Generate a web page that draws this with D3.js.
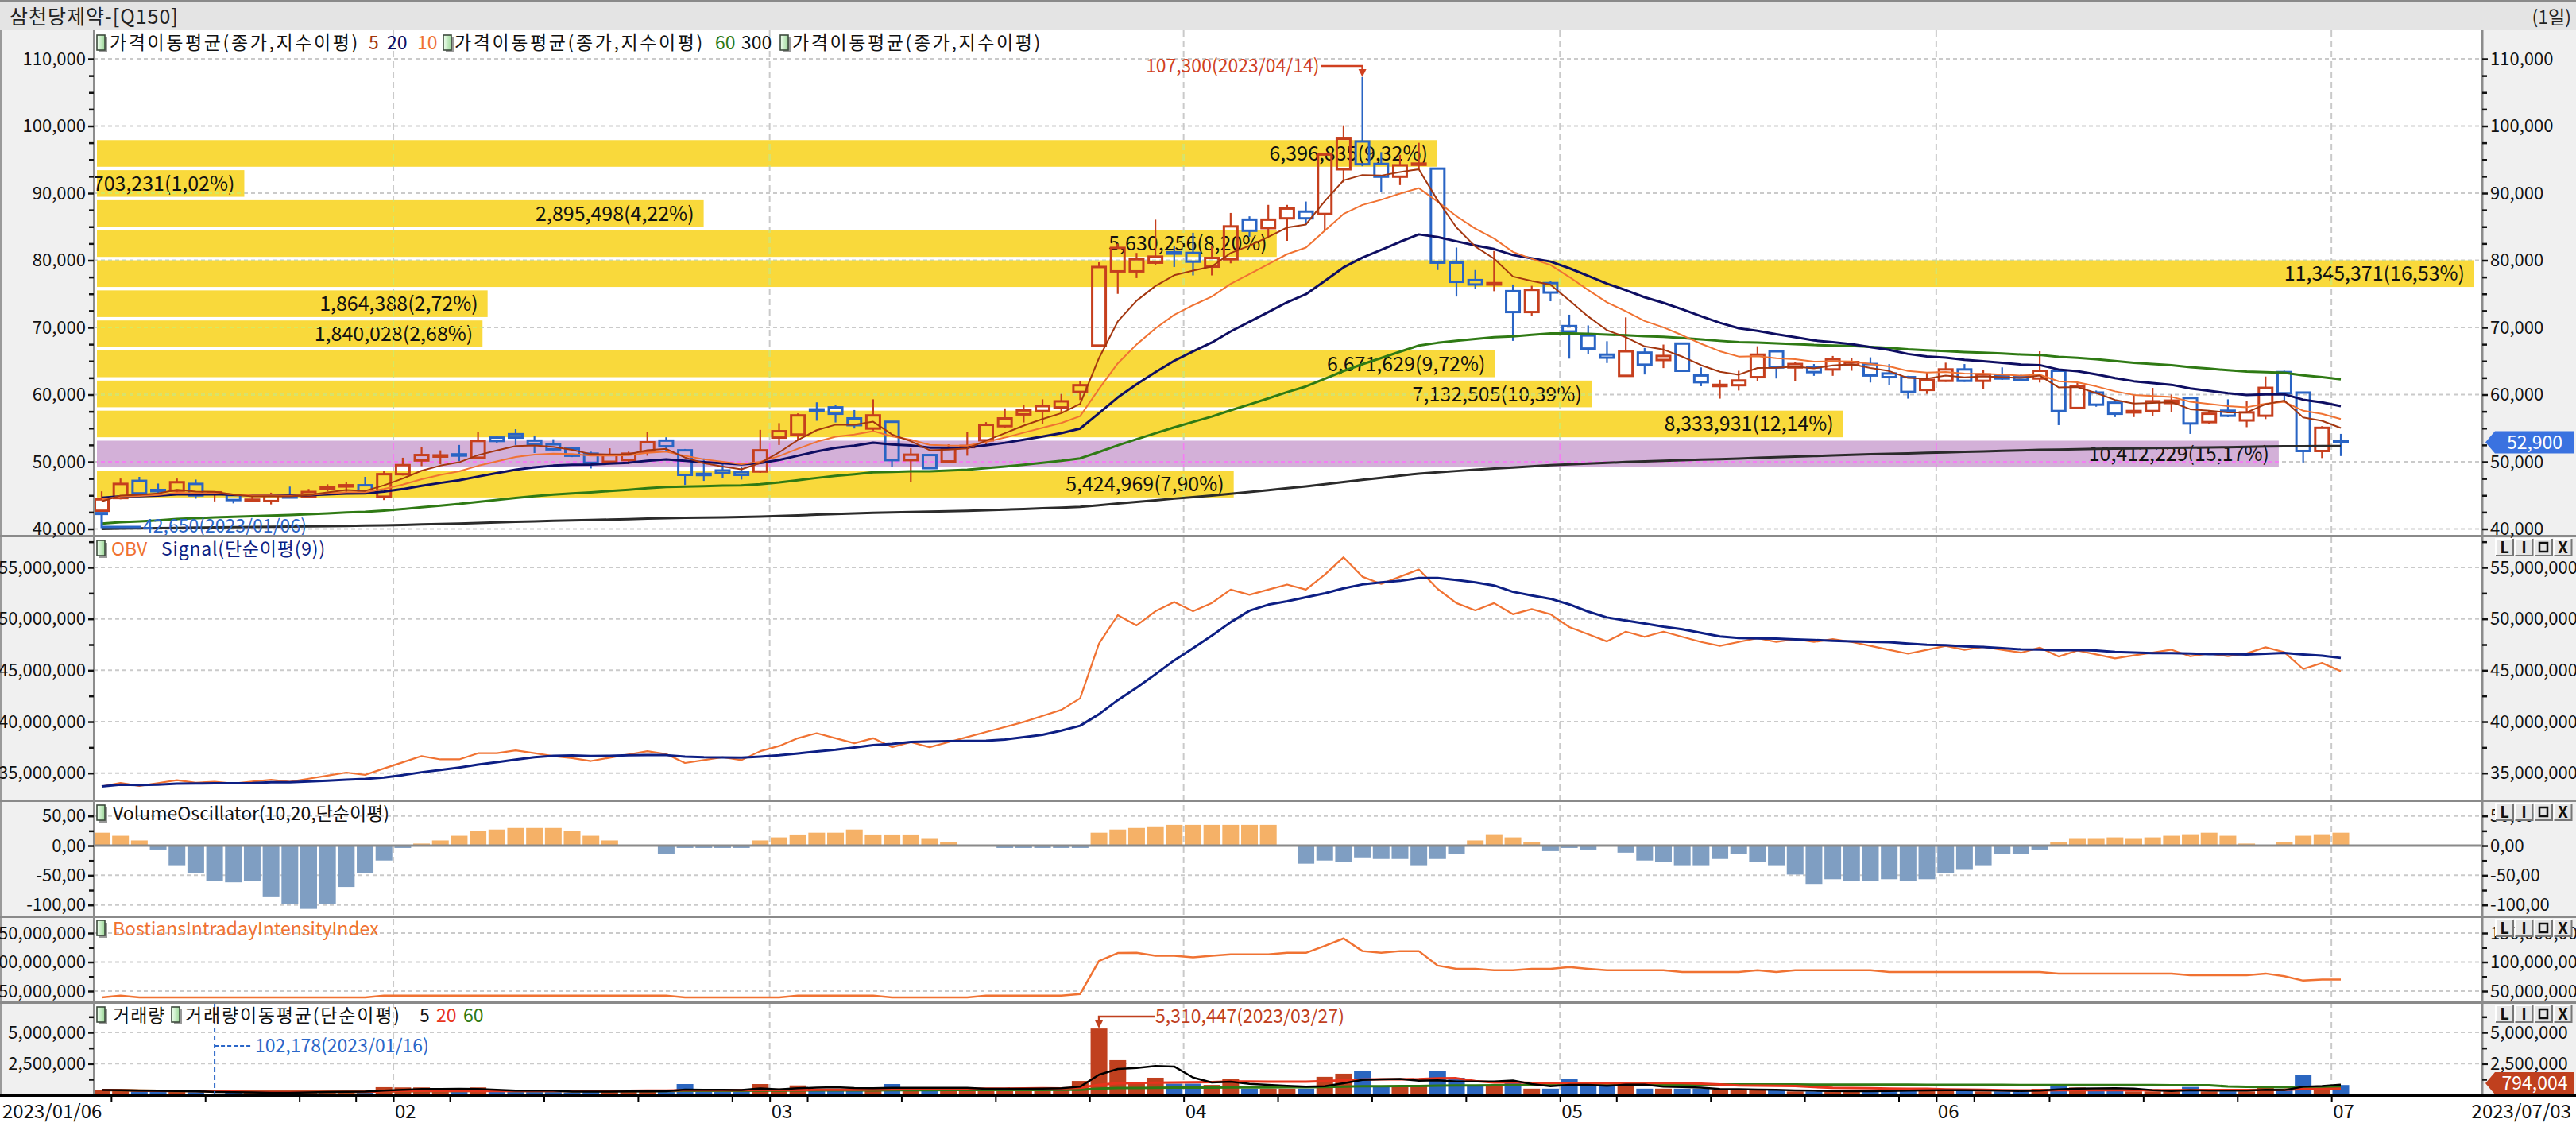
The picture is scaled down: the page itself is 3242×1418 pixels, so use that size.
<!DOCTYPE html>
<html><head><meta charset="utf-8">
<script src="https://cdn.jsdelivr.net/npm/d3@7/dist/d3.min.js"></script>
<style>
html,body{margin:0;padding:0;background:#fff;overflow:hidden;}
svg text{font-family:'Noto Sans CJK KR','Noto Sans',sans-serif;}
</style></head><body>
<svg id="c" width="3242" height="1418"></svg>
<script>
// ---------------- DATA ----------------
const monthDays = [
  ["2023/01",[6,9,10,11,12,13,16,17,18,19,20,25,26,27,30,31]],
  ["2023/02",[1,2,3,6,7,8,9,10,13,14,15,16,17,20,21,22,23,24,27,28]],
  ["2023/03",[2,3,6,7,8,9,10,13,14,15,16,17,20,21,22,23,24,27,28,29,30,31]],
  ["2023/04",[3,4,5,6,7,10,11,12,13,14,17,18,19,20,21,24,25,26,27,28]],
  ["2023/05",[2,3,4,8,9,10,11,12,15,16,17,18,19,22,23,24,25,26,30,31]],
  ["2023/06",[1,2,5,7,8,9,12,13,14,15,16,19,20,21,22,23,26,27,28,29,30]],
  ["2023/07",[3]]
];
const open = [42700,44600,47150,45800,45700,46700,45300,45050,44300,44150,
44850,44800,46100,46450,46500,44800,48150,50200,50800,51100,
50600,53600,54100,53150,52600,51950,51200,50000,50250,51500,
53150,51700,48200,48700,48450,48550,53600,54050,57800,58100,
56450,54950,55950,50250,51000,50050,52200,53200,55300,57050,
57550,58100,60400,67300,78350,78350,79650,81200,81100,79050,
80150,86050,84800,86250,87250,86900,93550,97700,94350,92450,
94300,93650,79650,77050,76400,75400,72300,76600,70200,68800,
65950,62800,66250,65150,67600,62850,61400,61400,62600,66450,
64050,64050,63750,64450,64550,63150,62600,60700,62050,63750,
62050,62850,62700,62400,63550,58000,60300,58800,57350,57550,
58750,59500,55900,57600,56150,56850,63350,60300,51600,53100];
const high = [45600,47500,47750,46750,47500,47350,45500,45100,45100,45400,
46300,45950,46650,46950,47750,48650,50600,52200,51700,52500,
54400,53900,54850,53850,53350,52200,51500,52000,51500,54400,
53650,51900,50500,49900,49300,54750,55750,57200,58850,58400,
57700,59300,56000,52000,51100,52600,54450,55900,57950,58400,
59300,60100,61950,79700,82500,81100,86050,82100,84100,82100,
87050,86550,88250,88250,88750,95900,100100,107300,96100,95700,
97500,93700,81900,78550,81400,76400,76200,76900,71900,70300,
67950,71500,66950,67450,67700,64050,62200,63550,67200,66550,
64850,64550,65750,65500,65550,64550,62800,63350,64750,64550,
63650,64050,62950,66450,63600,61800,60600,59200,60000,61000,
60000,59600,57600,59300,59000,62700,63550,60400,55300,54150];
const low = [42650,44400,45200,45000,45400,44500,44100,43800,44000,43650,
44650,44700,45600,45400,45300,44300,47950,49350,49650,50100,
50500,52800,52500,51300,51700,50700,49000,49700,49700,50900,
51500,46550,47150,47550,47350,48350,52500,53250,56100,55850,
54950,54600,49250,47000,49000,49900,50900,52600,55000,55850,
55650,57300,59200,67100,75000,77350,79300,79000,77750,77750,
79550,83500,83500,82900,85250,84500,91600,94000,90200,91200,
93550,78550,74600,75800,75400,68000,71750,73900,65350,66050,
64700,62700,63000,63950,63500,61250,59400,60600,62050,62400,
62050,62800,62800,63550,61800,61400,59400,60100,61900,61900,
60850,62200,62050,61800,55450,57850,58200,56650,56650,56850,
57400,54150,55650,56650,55150,56350,58800,49900,50550,50850];
const close = [44400,46700,45300,45700,46950,45000,45450,44300,44350,44950,
44750,45500,46200,46500,45400,48150,49500,51000,50950,50950,
53100,53100,53600,52600,51850,50900,49850,51000,51200,52900,
52300,48050,48100,48300,48050,51700,54550,56900,57650,57150,
55450,56900,50250,51050,49050,51950,52350,55500,56450,57650,
58300,59000,61400,79000,81850,80150,80550,81000,79800,80350,
85050,84400,86050,87700,86250,95750,98100,94300,92450,94150,
94400,79650,76800,76400,76600,72300,75600,75200,69400,66850,
65500,66450,64450,65750,63550,61850,61450,62100,65950,64050,
64550,63350,65250,64850,62850,62600,60400,62200,63750,62050,
63000,62400,62200,63550,57550,61200,58500,57150,57550,59000,
59100,55700,57150,56850,57350,61000,60200,51600,55050,52900];
const volume = [400000,350000,300000,280000,280000,250000,102178,170000,180000,180000,
200000,300000,300000,300000,220000,620000,600000,600000,320000,280000,
600000,280000,280000,280000,280000,200000,280000,320000,320000,320000,
280000,870000,280000,280000,280000,870000,500000,760000,490000,490000,
490000,490000,870000,490000,490000,490000,490000,490000,490000,490000,
590000,590000,1120000,5310447,2780000,1000000,1380000,900000,900000,800000,
1300000,500000,500000,500000,500000,1450000,1700000,1890000,700000,700000,
700000,1890000,1380000,700000,700000,1080000,500000,500000,1250000,700000,
700000,950000,500000,500000,500000,500000,380000,380000,380000,380000,
280000,280000,280000,280000,380000,380000,380000,380000,380000,380000,
280000,280000,280000,490000,870000,590000,380000,380000,280000,280000,
280000,640000,280000,280000,280000,600000,490000,1630000,590000,794004];
const volOsc = [21.9,16.7,8.8,-6.6,-32.9,-46,-59.2,-61.8,-59.2,-85.5,
-98.7,-106.6,-98.7,-69.7,-46,-25,-3.9,3.5,8.8,16.7,
24.6,27.2,29.8,29.8,29.8,24.6,16.7,8.8,0,0,
-14.5,-3.9,-3.9,-3.9,-3.9,8.8,14,18.9,21.9,21.9,
27.2,18.9,18.9,18.9,11.4,5.7,0,0,-3.9,-3.9,
-3.9,-3.9,-3.9,21.9,27.2,29.8,32.5,35,35,35,
35,35,35,0,-30.3,-25,-27.6,-19.7,-22.4,-22.4,
-32.9,-22.4,-14.5,8.8,19.3,14,6.1,-9.2,-3.9,-6.6,
0,-11.8,-25,-27.6,-32.9,-32.9,-22.4,-14.5,-27.6,-32.9,
-48.7,-64.5,-56.6,-59.2,-59.2,-56.6,-59.2,-56.6,-46,-40.8,
-32.9,-14.5,-14.5,-6.6,6.1,11.4,11.4,14,11.4,14,
16.7,19.3,21.9,16.7,3.5,0,6.1,16.7,19.3,21.9];
const biiM = [39,42.2,39,39,39,39,39,39,39,39,
39,39,39,39,39,42.2,42.2,42.2,42.2,42.2,
42.2,42.2,42.2,42.2,42.2,42.2,42.2,42.2,42.2,42.2,
42.2,39,39,39,39,39,39,42.2,42.2,42.2,
42.2,42.2,39,39,39,39,39,42.2,42.2,42.2,
42.2,42.2,45,101.8,115.6,116,111,111,108.3,111,
113.3,113.3,113.3,116,116,128,140.8,119,116,119,
119,94,88.5,88.5,85.8,85.8,88.5,88.5,91.3,88.5,
85.8,85.8,85.8,85.8,83,83,83,83,85.8,83,
85.8,85.8,85.8,85.8,85.8,83,83,83,83,83,
83,83,83,83,80.3,80.3,80.3,80.3,80.3,80.3,
80.3,77.5,77.5,77.5,77.5,80.3,75.7,68,69.7,69.7];
// volume-by-price bands (top to bottom)
const bandEdges = [97900,93420,88950,84470,80000,75520,71040,66570,62090,57610,53140,48660,44180];
const bandVolumes = [6396835,703231,2895498,5630256,11345371,1864388,1840028,6671629,7132505,8333931,10412229,5424969];
// seeds (indicator values at the first bar)
const emaSeeds = {5:44100, 10:44400, 20:44650, 60:40800, 300:40000};
const obvFirst = 33700000;
const priceTicks = [40000,50000,60000,70000,80000,90000,100000,110000];
const obvTicks = [35e6,40e6,45e6,50e6,55e6];
const voTicks = [50,0,-50,-100];
const biiTicks = [50e6,100e6,150e6];
const volTicks = [2.5e6,5e6];

// ---------------- DERIVED ----------------
const dates = [];
monthDays.forEach(([ym,days])=>days.forEach(d=>dates.push(ym+"/"+String(d).padStart(2,"0"))));
const N = dates.length;
function ema(src,n,seed){const a=2/(n+1);const out=[seed];for(let i=1;i<src.length;i++)out.push(out[i-1]+a*(src[i]-out[i-1]));return out;}
function sma(src,n){return src.map((_,i)=>d3.mean(src.slice(Math.max(0,i-n+1),i+1)));}
const ema5=ema(close,5,emaSeeds[5]), ema10=ema(close,10,emaSeeds[10]), ema20=ema(close,20,emaSeeds[20]);
const ema60=ema(close,60,emaSeeds[60]), ema300=ema(close,300,emaSeeds[300]);
const obv=[obvFirst];
for(let i=1;i<N;i++){const d=close[i]-close[i-1];obv.push(obv[i-1]+(d>0?volume[i]:d<0?-volume[i]:0));}
const obvSig = sma(obv,9);
const vma5=sma(volume,5), vma20=sma(volume,20), vma60=sma(volume,60);

// ---------------- LAYOUT ----------------
const W=3242,H=1418,X0=118,X1=3124;
const svg=d3.select("#c");
const x=d3.scaleLinear().domain([0,N-1]).range([128,2946]);
const step=(x(N-1)-x(0))/(N-1);
const yP=d3.scaleLinear().domain([40000,110000]).range([665.5,74]);
const yO=d3.scaleLinear().domain([35e6,55e6]).range([972.7,714]);
const yV=d3.scaleLinear().domain([-100,50]).range([1138.7,1026.7]);
const yB=d3.scaleLinear().domain([50e6,150e6]).range([1247,1174]);
const yQ=d3.scaleLinear().domain([0,5e6]).range([1377.7,1299]);

const RED="#c63f1d", BLUE="#2964c4";
const fmt=d3.format(",");
const loc=d3.formatLocale({decimal:",",thousands:".",grouping:[3],currency:["",""],minus:"-"});
const fmtVO=loc.format(".2f");
const fmtPct=loc.format(".2f");

// backgrounds
svg.append("rect").attr("width",W).attr("height",H).attr("fill","#fff");
svg.append("rect").attr("x",0).attr("y",38).attr("width",X0).attr("height",1378-38).attr("fill","#f0f0f0");
svg.append("rect").attr("x",X1).attr("y",38).attr("width",W-X1).attr("height",1378-38).attr("fill","#f0f0f0");
// title bar
svg.append("rect").attr("x",0).attr("y",0).attr("width",W).attr("height",38).attr("fill","#e4e4e4");
svg.append("rect").attr("x",0).attr("y",0).attr("width",W).attr("height",3).attr("fill","#8a8a8a");
svg.append("text").attr("x",12).attr("y",30).attr("font-size",25).attr("letter-spacing",1).attr("fill","#222").text("삼천당제약-[Q150]");
svg.append("text").attr("x",3236).attr("y",30).attr("font-size",23).attr("text-anchor","end").attr("fill","#222").text("(1일)");
svg.append("rect").attr("x",0).attr("y",38).attr("width",2).attr("height",1340).attr("fill","#9a9a9a");

const defs=svg.append("defs");
defs.append("clipPath").attr("id","clipMain").append("rect").attr("x",X0).attr("y",38).attr("width",X1-X0).attr("height",673-38);
const gIcon=defs.append("linearGradient").attr("id","icg").attr("x1",0).attr("x2",1).attr("y1",0).attr("y2",0);
gIcon.append("stop").attr("offset","0").attr("stop-color","#f0fff0");
gIcon.append("stop").attr("offset","1").attr("stop-color","#9ed89a");

// ---------- main panel : volume profile bands ----------
const bandX=d3.scaleLinear().domain([0,d3.max(bandVolumes)]).range([122,3114]);
const curBand=bandEdges.findIndex((e,k)=>k<bandVolumes.length && close[N-1]<=e && close[N-1]>bandEdges[k+1]);
const bandData=bandVolumes.map((v,k)=>({v,k,hi:bandEdges[k],lo:bandEdges[k+1],cur:k===curBand}));
const gBand=svg.append("g");
gBand.selectAll("rect").data(bandData).join("rect")
  .attr("x",122).attr("width",d=>bandX(d.v)-122)
  .attr("y",d=>yP(d.hi)).attr("height",d=>yP(d.lo)-yP(d.hi)-4.3)
  .attr("fill",d=>d.cur?"#d3b0d8":"#f9d93b");
const cpY=defs.append("clipPath").attr("id","clipY");
const cpP=defs.append("clipPath").attr("id","clipPu");
bandData.forEach(d=>{(d.cur?cpP:cpY).append("rect").attr("x",122).attr("width",bandX(d.v)-122).attr("y",yP(d.hi)).attr("height",yP(d.lo)-yP(d.hi)-4.3);});

// ---------- grid lines ----------
const monthStarts=[];
for(let i=1;i<N;i++){if(dates[i].slice(0,7)!==dates[i-1].slice(0,7))monthStarts.push(i);}
function hGrid(g,scale,vals,color){
  g.selectAll(null).data(vals).join("line").attr("x1",X0).attr("x2",X1)
   .attr("y1",d=>scale(d)).attr("y2",d=>scale(d)).attr("stroke",color).attr("stroke-width",2).attr("stroke-dasharray","5,4");
}
function vGrid(g,y1,y2,color){
  g.selectAll(null).data(monthStarts).join("line").attr("x1",d=>x(d)-step/2).attr("x2",d=>x(d)-step/2)
   .attr("y1",y1).attr("y2",y2).attr("stroke",color).attr("stroke-width",2).attr("stroke-dasharray","8,5");
}
const gGrid=svg.append("g");
hGrid(gGrid,yP,priceTicks,"#cacaca");
hGrid(gGrid,yO,obvTicks,"#cacaca");
hGrid(gGrid,yV,[50,-50,-100],"#cacaca");
hGrid(gGrid,yB,biiTicks,"#cacaca");
hGrid(gGrid,yQ,volTicks,"#cacaca");
vGrid(gGrid,38,1377,"#cacaca");
const gGy=svg.append("g").attr("clip-path","url(#clipY)");
hGrid(gGy,yP,priceTicks,"#d4ea60"); vGrid(gGy,38,673,"#d4ea60");
const gGp=svg.append("g").attr("clip-path","url(#clipPu)");
hGrid(gGp,yP,priceTicks,"#f27ff2"); vGrid(gGp,38,673,"#f27ff2");

// band labels
gBand.append("g").selectAll("text").data(bandData).join("text")
  .attr("x",d=>bandX(d.v)-12).attr("y",d=>(yP(d.hi)+yP(d.lo)-4.3)/2).attr("dy","0.36em")
  .attr("text-anchor","end").attr("font-size",25).attr("fill","#111")
  .text(d=>fmt(d.v)+"("+fmtPct(d.v/d3.sum(bandVolumes)*100)+"%)");

// ---------- candles ----------
const gMain=svg.append("g").attr("clip-path","url(#clipMain)");
const cd=d3.range(N).map(i=>({i,o:open[i],h:high[i],l:low[i],c:close[i],up:close[i]>=open[i]}));
const gC=gMain.append("g");
cd.forEach(d=>{
  const col=d.up?RED:BLUE, cx=x(d.i);
  const top=yP(Math.max(d.o,d.c)), bot=yP(Math.min(d.o,d.c));
  gC.append("line").attr("x1",cx).attr("x2",cx).attr("y1",yP(d.h)).attr("y2",top).attr("stroke",col).attr("stroke-width",2.2);
  gC.append("line").attr("x1",cx).attr("x2",cx).attr("y1",bot).attr("y2",yP(d.l)).attr("stroke",col).attr("stroke-width",2.2);
  gC.append("rect").attr("x",cx-8.5).attr("width",17).attr("y",top).attr("height",Math.max(bot-top,1.5))
    .attr("fill","none").attr("stroke",col).attr("stroke-width",3);
});
// EMA lines
function drawLine(g,data,scale,color,w){
  g.append("path").datum(data).attr("fill","none").attr("stroke",color).attr("stroke-width",w).attr("stroke-linejoin","round")
   .attr("d",d3.line().x((d,i)=>x(i)).y(d=>scale(d)));
}
drawLine(gMain,ema300,yP,"#2b2b2b",3);
drawLine(gMain,ema60,yP,"#2f7a14",3);
drawLine(gMain,ema20,yP,"#0e0e62",3);
drawLine(gMain,ema10,yP,"#f07232",2);
drawLine(gMain,ema5,yP,"#a3360f",2);

// high / low annotation
const iMax=d3.maxIndex(high), iMin=d3.minIndex(low);
const gAnn=svg.append("g");
gAnn.append("path").attr("d",`M${x(iMax)-52},83 L${x(iMax)},83 L${x(iMax)},88`).attr("fill","none").attr("stroke","#d04020").attr("stroke-width",2.5);
gAnn.append("path").attr("d",`M${x(iMax)-5},87 L${x(iMax)+5},87 L${x(iMax)},${yP(high[iMax])}Z`).attr("fill","#d04020");
gAnn.append("text").attr("x",x(iMax)-54).attr("y",83).attr("dy","0.36em").attr("text-anchor","end").attr("font-size",23).attr("fill","#d04020")
  .text(fmt(high[iMax])+"("+dates[iMax]+")");
gAnn.append("path").attr("d",`M${x(iMin)},${yP(low[iMin])+2} L${x(iMin)},663 L${x(iMin)+50},663`).attr("fill","none").attr("stroke","#2a66c8").attr("stroke-width",3);
gAnn.append("rect").attr("x",x(iMin)-8).attr("y",yP(low[iMin])+1).attr("width",16).attr("height",4).attr("fill","#2a66c8");
gAnn.append("text").attr("x",x(iMin)+52).attr("y",662).attr("dy","0.36em").attr("font-size",23).attr("fill","#2a66c8")
  .text(fmt(low[iMin])+"("+dates[iMin]+")");

// ---------- OBV ----------
const gO=svg.append("g");
drawLine(gO,obv,yO,"#f07232",2.2);
drawLine(gO,obvSig,yO,"#0d1f84",3);

// ---------- Volume oscillator ----------
const gV=svg.append("g");
gV.selectAll("rect").data(volOsc).join("rect")
  .attr("x",(d,i)=>x(i)-10.5).attr("width",21)
  .attr("y",d=>d>=0?yV(d):yV(0)).attr("height",d=>Math.abs(yV(d)-yV(0)))
  .attr("fill",d=>d>=0?"#f5b167":"#7f9ec2");
gV.append("line").attr("x1",X0).attr("x2",X1).attr("y1",yV(0)).attr("y2",yV(0)).attr("stroke","#8a8a8a").attr("stroke-width",3);

// ---------- BII ----------
drawLine(svg.append("g"),biiM.map(v=>v*1e6),yB,"#f07232",2.5);

// ---------- Volume ----------
const gQ=svg.append("g");
gQ.selectAll("rect").data(volume).join("rect")
  .attr("x",(d,i)=>x(i)-10.5).attr("width",21)
  .attr("y",d=>yQ(d)).attr("height",d=>yQ(0)-yQ(d))
  .attr("fill",(d,i)=>close[i]>=open[i]?"#c0401e":"#2b66c0");
drawLine(gQ,vma60,yQ,"#2f7a14",3);
drawLine(gQ,vma20,yQ,"#e8341c",3);
drawLine(gQ,vma5,yQ,"#000",2.5);
const iVmax=d3.maxIndex(volume), iVmin=d3.minIndex(volume);
gQ.append("path").attr("d",`M${x(iVmax)+70},1279 L${x(iVmax)},1279 L${x(iVmax)},1284`).attr("fill","none").attr("stroke","#c0401e").attr("stroke-width",2.5);
gQ.append("path").attr("d",`M${x(iVmax)-5},1284 L${x(iVmax)+5},1284 L${x(iVmax)},${yQ(volume[iVmax])}Z`).attr("fill","#c0401e");
gQ.append("text").attr("x",x(iVmax)+71).attr("y",1279).attr("dy","0.36em").attr("font-size",23).attr("fill","#c0401e")
  .text(fmt(volume[iVmax])+"("+dates[iVmax]+")");
gQ.append("line").attr("x1",x(iVmin)).attr("x2",x(iVmin)).attr("y1",1263).attr("y2",1377).attr("stroke","#2a66c8").attr("stroke-width",2).attr("stroke-dasharray","6,4");
gQ.append("line").attr("x1",x(iVmin)).attr("x2",x(iVmin)+48).attr("y1",1316).attr("y2",1316).attr("stroke","#2a66c8").attr("stroke-width",2).attr("stroke-dasharray","5,3");
gQ.append("text").attr("x",x(iVmin)+51).attr("y",1316).attr("dy","0.36em").attr("font-size",23).attr("fill","#2a66c8")
  .text(fmt(volume[iVmin])+"("+dates[iVmin]+")");

// ---------- panel borders & axes ----------
[674.5,1007.5,1153.5,1261.5].forEach(y=>svg.append("rect").attr("x",0).attr("y",y-1.5).attr("width",W).attr("height",3).attr("fill","#8a8a8a"));
svg.append("rect").attr("x",X0-1).attr("y",38).attr("width",2.5).attr("height",1340).attr("fill","#8c8c8c");
svg.append("rect").attr("x",X1-1).attr("y",38).attr("width",2.5).attr("height",1340).attr("fill","#8c8c8c");

function yAxis(scale,major,minor,f){
  [["L",X0],["R",X1]].forEach(([side,xp])=>{
    const mk=()=>side==="L"?d3.axisLeft(scale):d3.axisRight(scale);
    const gm=svg.append("g").attr("transform",`translate(${xp},0)`).call(mk().tickValues(minor).tickSize(6).tickFormat(""));
    const gM=svg.append("g").attr("transform",`translate(${xp},0)`).call(mk().tickValues(major).tickSize(7).tickPadding(3).tickFormat(f));
    [gm,gM].forEach(g=>{g.select(".domain").remove();g.selectAll("line").attr("stroke","#111").attr("stroke-width",2.5);});
    gM.selectAll("text").attr("font-size",22).attr("fill","#111").attr("font-family","'Noto Sans CJK KR',sans-serif");
  });
}
yAxis(yP,priceTicks,d3.range(42500,110000,2500).filter(v=>v%10000),fmt);
yAxis(yO,obvTicks,[37.5e6,42.5e6,47.5e6,52.5e6,57.5e6],fmt);
yAxis(yV,voTicks,[25,-25,-75],fmtVO);
yAxis(yB,biiTicks,[75e6,125e6],fmt);
yAxis(yQ,volTicks,[1.25e6,3.75e6,6.25e6],fmt);

// x axis
svg.append("rect").attr("x",0).attr("y",1377).attr("width",W).attr("height",3).attr("fill","#000");
const weekStarts=[];
for(let i=1;i<N;i++){
  const a=new Date(dates[i-1].replace(/\//g,"-")), b=new Date(dates[i].replace(/\//g,"-"));
  if(b.getUTCDay()<=a.getUTCDay()||(b-a)>=7*864e5||dates[i].slice(0,7)!==dates[i-1].slice(0,7))weekStarts.push(i);
}
const xa=d3.scaleLinear().domain([0,N-1]).range([x(0)-step/2,x(N-1)-step/2]);
const gX=svg.append("g").attr("transform","translate(0,1379)")
  .call(d3.axisBottom(xa).tickValues(weekStarts).tickSize(7).tickFormat(""));
gX.select(".domain").remove(); gX.selectAll("line").attr("stroke","#000").attr("stroke-width",2);
svg.append("g").selectAll("text").data(monthStarts).join("text")
  .attr("x",d=>x(d)-step/2+2).attr("y",1407).attr("font-size",24).attr("fill","#111").text(d=>dates[d].slice(5,7));
svg.append("text").attr("x",3).attr("y",1407).attr("font-size",24).attr("fill","#111").text(dates[0]);
svg.append("text").attr("x",3236).attr("y",1407).attr("font-size",24).attr("text-anchor","end").attr("fill","#111").text(dates[N-1]);

// badges
function badge(y,txt,col){
  const g=svg.append("g");
  g.append("path").attr("d",`M3128,${y} L3140,${y-14} L3240,${y-14} L3240,${y+14} L3140,${y+14}Z`).attr("fill",col);
  g.append("text").attr("x",3190).attr("y",y).attr("dy","0.36em").attr("text-anchor","middle").attr("font-size",23).attr("fill","#fff").text(txt);
}
badge(yP(close[N-1]),fmt(close[N-1]),"#3a72e0");
badge(1363,fmt(volume[N-1]),"#c0401e");

// legend icons & buttons
function icon(xp,yp){
  svg.append("rect").attr("x",xp+3).attr("y",yp+3).attr("width",10).attr("height",19).attr("fill","#9a9a9a");
  svg.append("rect").attr("x",xp).attr("y",yp).attr("width",10).attr("height",19).attr("fill","url(#icg)").attr("stroke","#3c4a3c").attr("stroke-width",1.6);
}
function leg(xp,yp,txt,col,ls){
  svg.append("text").attr("x",xp).attr("y",yp).attr("font-size",23).attr("fill",col).attr("letter-spacing",ls||0).text(txt);
}
icon(122,44); leg(138,62,"가격이동평균(종가,지수이평)","#111",2.6);
leg(464,62,"5","#a3360f"); leg(487,62,"20","#0e0e62"); leg(525,62,"10","#f07232");
icon(558,44); leg(572,62,"가격이동평균(종가,지수이평)","#111",2.6);
leg(900,62,"60","#2f7a14"); leg(933,62,"300","#111");
icon(982,44); leg(997,62,"가격이동평균(종가,지수이평)","#111",2.6);

icon(122,680); leg(140,699,"OBV","#f07232"); leg(203,699,"Signal(단순이평(9))","#0d1f84",0.8);
icon(122,1013); leg(142,1032,"VolumeOscillator(10,20,단순이평)","#111");
icon(122,1158); leg(142,1177,"BostiansIntradayIntensityIndex","#f07232");
icon(122,1267); leg(142,1286,"거래량","#111",1);
icon(216,1267); leg(233,1286,"거래량이동평균(단순이평)","#111",1.8);
leg(528,1286,"5","#111"); leg(549,1286,"20","#e8341c"); leg(583,1286,"60","#2f7a14");

function buttons(y){
  ["L","I","box","X"].forEach((l,k)=>{
    const bx=3141+k*24.5, g=svg.append("g");
    g.append("rect").attr("x",bx).attr("y",y).attr("width",22).attr("height",21).attr("fill","#e6e6e6");
    g.append("path").attr("d",`M${bx},${y+21} L${bx},${y} L${bx+22},${y}`).attr("fill","none").attr("stroke","#fff").attr("stroke-width",2);
    g.append("path").attr("d",`M${bx+22},${y} L${bx+22},${y+21} L${bx},${y+21}`).attr("fill","none").attr("stroke","#777").attr("stroke-width",2);
    if(l==="box") g.append("rect").attr("x",bx+6).attr("y",y+5).attr("width",10).attr("height",11).attr("fill","none").attr("stroke","#111").attr("stroke-width",2.5);
    else g.append("text").attr("x",bx+11).attr("y",y+18).attr("text-anchor","middle").attr("font-size",20).attr("font-weight","bold").attr("fill","#111").text(l);
  });
}
buttons(678); buttons(1011); buttons(1157); buttons(1265);
</script></body></html>
